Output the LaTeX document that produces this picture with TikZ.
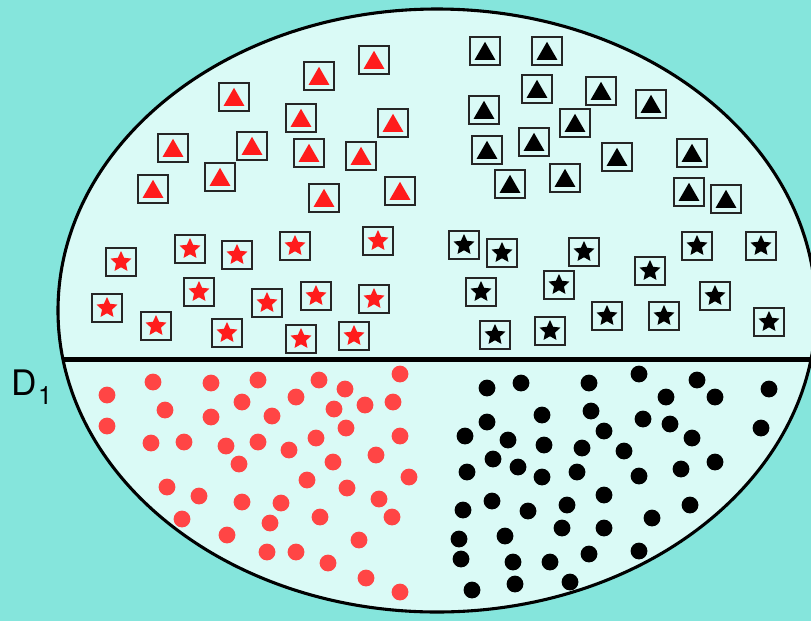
\documentclass[tikz,border=0pt]{standalone}
\usepackage{fontspec}
\setsansfont{TeX Gyre Heros}
\usetikzlibrary{shapes.geometric}

\definecolor{seabg}{HTML}{85E5DC}
\definecolor{setfill}{HTML}{DAFAF6}
\definecolor{redmark}{HTML}{FF1C1C}
\definecolor{reddot}{HTML}{FF4545}

\tikzset{
  markbox/.style={draw=black!85, line width=1.3pt, minimum width=0.75cm, minimum height=0.7cm, inner sep=0pt},
  tri/.style={regular polygon, regular polygon sides=3, minimum size=0.6cm, inner sep=0pt, fill=#1, yshift=-2pt},
  starmark/.style={star, star points=5, star point ratio=2.1, minimum size=0.55cm, inner sep=0pt, fill=#1},
  dotmark/.style={circle, minimum size=0.42cm, inner sep=0pt, fill=#1},
}

\begin{document}
\begin{tikzpicture}[x=0.025cm, y=-0.025cm]
  % Background
  \fill[seabg] (0,0) rectangle (811,621);
  \useasboundingbox (0,0) rectangle (811,621);

  % The set and its dividing line
  \fill[setfill] (437,310.5) ellipse [x radius=379, y radius=301.5];
  \begin{scope}
    \clip (437,310.5) ellipse [x radius=379, y radius=301.5];
    \draw[line width=3.6pt] (0,359.5) -- (811,359.5);
  \end{scope}
  \draw[line width=2.2pt] (437,310.5) ellipse [x radius=379, y radius=301.5];

  \node[font=\sffamily\fontsize{25}{30}\selectfont, anchor=base west, inner sep=0pt] (dlabel) at (11,395)
    {D\kern1pt{\fontsize{18}{20}\selectfont\raisebox{-6.5pt}{1}}};

  % Red triangles
  \foreach \x/\y [count=\i] in {374/60, 319/76, 234/97, 301/118, 393/123, 173/148, 252/146,
      309/153, 361/156, 220/177, 153/189, 324/198, 400/191}
  {
    \node[markbox] (rt\i) at (\x,\y) {};
    \node[tri=redmark] (rtm\i) at (rt\i.center) {};
  }

  % Red stars
  \foreach \x/\y [count=\i] in {121/262, 190/249, 237/255, 295/246, 378/241, 199/292, 267/303,
      316/296, 374/299, 107/308, 156/326, 227/333, 301/339, 354/336}
  {
    \node[markbox] (rs\i) at (\x,\y) {};
    \node[starmark=redmark] (rsm\i) at (rs\i.center) {};
  }

  % Black triangles
  \foreach \x/\y [count=\i] in {485/51, 547/51, 537/89, 601/91, 651/104, 484/110, 575/123,
      534/142, 487/150, 617/157, 692/153, 510/184, 565/178, 689/192, 726/199}
  {
    \node[markbox] (bt\i) at (\x,\y) {};
    \node[tri=black] (btm\i) at (bt\i.center) {};
  }

  % Black stars
  \foreach \x/\y [count=\i] in {464/245, 502/253, 584/252, 697/246, 761/246, 650/271, 481/292,
      559/285, 715/296, 495/335, 550/331, 607/316, 664/316, 769/322}
  {
    \node[markbox] (bs\i) at (\x,\y) {};
    \node[starmark=black] (bsm\i) at (bs\i.center) {};
  }

  % Red dots
  \foreach \x/\y [count=\i] in {107/395, 153/382, 211/383, 258/380, 319/380, 345/389, 400/374,
      165/410, 242/402, 296/397, 334/409, 365/405, 393/402, 107/426, 211/417, 272/416,
      151/443, 184/442, 226/446, 258/442, 289/450, 316/438, 346/428, 400/436, 239/464,
      333/462, 376/455, 409/477, 167/487, 199/496, 307/480, 347/488, 242/502, 281/503,
      379/499, 182/519, 270/523, 320/517, 392/517, 227/535, 359/540, 267/552, 296/552,
      328/563, 366/578, 400/592}
    \node[dotmark=reddot] (rd\i) at (\x,\y) {};

  % Black dots
  \foreach \x/\y [count=\i] in {487/388, 521/383, 589/383, 639/374, 697/380, 715/397, 769/389,
      666/397, 487/422, 542/415, 591/411, 643/419, 670/424, 761/428, 465/436, 508/440,
      544/445, 582/448, 604/431, 624/451, 692/438, 493/459, 518/467, 467/472, 542/477,
      577/472, 639/476, 681/469, 715/462, 463/510, 492/501, 528/511, 567/505, 604/495,
      690/505, 459/539, 505/536, 562/528, 604/528, 652/518, 461/559, 513/562, 550/562,
      589/554, 639/551, 472/590, 515/584, 570/582}
    \node[dotmark=black] (bd\i) at (\x,\y) {};
\end{tikzpicture}
\end{document}
